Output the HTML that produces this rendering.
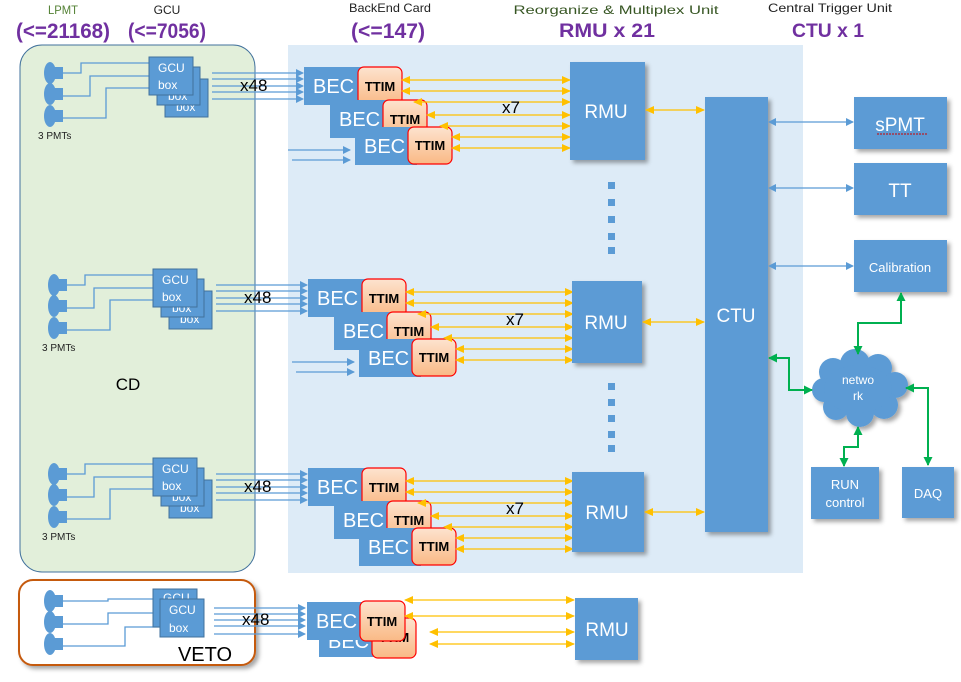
<!DOCTYPE html>
<html><head><meta charset="utf-8"><style>
body{margin:0;background:#fff}
svg{display:block;font-family:"Liberation Sans",sans-serif}
.b{fill:#5b9bd5}
.w{fill:#fff}
.bl{stroke:#5b9bd5;stroke-width:1.3;fill:none}
.y{stroke:#ffc000;stroke-width:1.3;fill:none}
.g{stroke:#00b050;stroke-width:2;fill:none}
.tt{fill:url(#og);stroke:#ff0000;stroke-width:1.2}
</style></head><body>
<svg width="961" height="682" viewBox="0 0 961 682">
<defs>
<linearGradient id="og" x1="0" y1="0" x2="0" y2="1"><stop offset="0" stop-color="#fde3cf"/><stop offset="1" stop-color="#f9b985"/></linearGradient>
<marker id="ab" markerWidth="8" markerHeight="8" refX="7" refY="4" orient="auto-start-reverse" markerUnits="userSpaceOnUse"><path d="M0,0L8,4L0,8z" fill="#5b9bd5"/></marker>
<marker id="ay" markerWidth="9" markerHeight="8" refX="8" refY="4" orient="auto-start-reverse" markerUnits="userSpaceOnUse"><path d="M0,0L9,4L0,8z" fill="#ffc000"/></marker>
<marker id="ag" markerWidth="9" markerHeight="9" refX="8" refY="4.5" orient="auto-start-reverse" markerUnits="userSpaceOnUse"><path d="M0,0L9,4.5L0,9z" fill="#00b050"/></marker>
<filter id="sh" x="-10%" y="-10%" width="130%" height="130%"><feDropShadow dx="3" dy="3" stdDeviation="2" flood-color="#000" flood-opacity="0.35"/></filter>
<g id="pmts">
<ellipse class="b" cx="50" cy="73" rx="6" ry="11"/><rect class="b" x="55" y="67" width="8" height="12"/>
<ellipse class="b" cx="50" cy="94" rx="6" ry="11"/><rect class="b" x="55" y="88" width="8" height="12"/>
<ellipse class="b" cx="50" cy="116" rx="6" ry="11"/><rect class="b" x="55" y="110" width="8" height="12"/>
</g>
</defs>

<text x="63" y="14" font-size="12" fill="#548235" text-anchor="middle" textLength="30" lengthAdjust="spacingAndGlyphs">LPMT</text>
<text x="63" y="38" font-size="21" font-weight="bold" fill="#7030a0" text-anchor="middle" textLength="94" lengthAdjust="spacingAndGlyphs">(&lt;=21168)</text>
<text x="167" y="14" font-size="12" fill="#222" text-anchor="middle">GCU</text>
<text x="167" y="38" font-size="21" font-weight="bold" fill="#7030a0" text-anchor="middle" textLength="78" lengthAdjust="spacingAndGlyphs">(&lt;=7056)</text>
<text x="390" y="12" font-size="12" fill="#222" text-anchor="middle" textLength="82" lengthAdjust="spacingAndGlyphs">BackEnd Card</text>
<text x="388" y="38" font-size="21" font-weight="bold" fill="#7030a0" text-anchor="middle" textLength="74" lengthAdjust="spacingAndGlyphs">(&lt;=147)</text>
<text x="616" y="14" font-size="12" fill="#375623" text-anchor="middle" textLength="205" lengthAdjust="spacingAndGlyphs">Reorganize &amp; Multiplex Unit</text>
<text x="607" y="37" font-size="19" font-weight="bold" fill="#7030a0" text-anchor="middle" textLength="96" lengthAdjust="spacingAndGlyphs">RMU x 21</text>
<text x="830" y="12" font-size="12" fill="#222" text-anchor="middle" textLength="124" lengthAdjust="spacingAndGlyphs">Central Trigger Unit</text>
<text x="828" y="37" font-size="19" font-weight="bold" fill="#7030a0" text-anchor="middle" textLength="72" lengthAdjust="spacingAndGlyphs">CTU x 1</text>

<rect x="20" y="45" width="235" height="527" rx="22" fill="#e2efda" stroke="#41719c" stroke-width="1"/>
<rect x="288" y="45" width="515" height="528" fill="#ddebf7"/>
<rect x="19" y="580" width="236" height="85" rx="14" fill="#fff" stroke="#c55a11" stroke-width="2" filter="url(#sh)"/>
<text x="128" y="390" font-size="17" fill="#000" text-anchor="middle">CD</text>
<text x="205" y="661" font-size="20" fill="#000" text-anchor="middle">VETO</text>

<g id="grp1">
<use href="#pmts"/>
<text x="38" y="139" font-size="10" fill="#222">3 PMTs</text>
<path class="bl" d="M63 73H81V63H149M63 96H90V76H149M63 118H106V88H149"/>
<rect class="b" x="165" y="79" width="43" height="38" stroke="#41719c"/><text x="176" y="111" font-size="12" class="w">box</text>
<rect class="b" x="157" y="67" width="43" height="38" stroke="#41719c"/><text x="168" y="100" font-size="12" class="w">box</text>
<rect class="b" x="149" y="57" width="44" height="38" stroke="#41719c"/><text x="158" y="72" font-size="12" class="w">GCU</text><text x="158" y="89" font-size="12" class="w">box</text>
<path class="bl" marker-end="url(#ab)" d="M212 73H303"/><path class="bl" marker-end="url(#ab)" d="M212 79H303"/><path class="bl" marker-end="url(#ab)" d="M212 86H303"/><path class="bl" marker-end="url(#ab)" d="M212 92H303"/><path class="bl" marker-end="url(#ab)" d="M212 99H303"/>
<text x="240" y="91" font-size="17" fill="#000">x48</text>
<rect class="b" x="304" y="67" width="62" height="38"/><text x="313" y="93" font-size="20" class="w">BEC</text>
<rect class="tt" x="358" y="67" width="44" height="38" rx="6"/><text x="380" y="91" font-size="13" font-weight="bold" text-anchor="middle">TTIM</text>
<rect class="b" x="330" y="100" width="62" height="38"/><text x="339" y="126" font-size="20" class="w">BEC</text>
<rect class="tt" x="383" y="100" width="44" height="38" rx="6"/><text x="405" y="124" font-size="13" font-weight="bold" text-anchor="middle">TTIM</text>
<rect class="b" x="355" y="127" width="62" height="38"/><text x="364" y="153" font-size="20" class="w">BEC</text>
<rect class="tt" x="408" y="127" width="44" height="37" rx="6"/><text x="430" y="150" font-size="13" font-weight="bold" text-anchor="middle">TTIM</text>
<path class="bl" marker-end="url(#ab)" d="M288 150H350"/><path class="bl" marker-end="url(#ab)" d="M292 160H350"/>
<g class="y" marker-start="url(#ay)" marker-end="url(#ay)">
<path d="M402 80H570"/><path d="M402 91H570"/><path d="M414 102H570"/><path d="M427 115H570"/><path d="M440 126H570"/><path d="M452 137H570"/><path d="M452 148H570"/>
</g>
<text x="502" y="113" font-size="17" fill="#000">x7</text>
</g>
<g transform="translate(4,212)">
<use href="#pmts"/>
<text x="38" y="139" font-size="10" fill="#222">3 PMTs</text>
<path class="bl" d="M63 73H81V63H149M63 96H90V76H149M63 118H106V88H149"/>
<rect class="b" x="165" y="79" width="43" height="38" stroke="#41719c"/><text x="176" y="111" font-size="12" class="w">box</text>
<rect class="b" x="157" y="67" width="43" height="38" stroke="#41719c"/><text x="168" y="100" font-size="12" class="w">box</text>
<rect class="b" x="149" y="57" width="44" height="38" stroke="#41719c"/><text x="158" y="72" font-size="12" class="w">GCU</text><text x="158" y="89" font-size="12" class="w">box</text>
<path class="bl" marker-end="url(#ab)" d="M212 73H303"/><path class="bl" marker-end="url(#ab)" d="M212 79H303"/><path class="bl" marker-end="url(#ab)" d="M212 86H303"/><path class="bl" marker-end="url(#ab)" d="M212 92H303"/><path class="bl" marker-end="url(#ab)" d="M212 99H303"/>
<text x="240" y="91" font-size="17" fill="#000">x48</text>
<rect class="b" x="304" y="67" width="62" height="38"/><text x="313" y="93" font-size="20" class="w">BEC</text>
<rect class="tt" x="358" y="67" width="44" height="38" rx="6"/><text x="380" y="91" font-size="13" font-weight="bold" text-anchor="middle">TTIM</text>
<rect class="b" x="330" y="100" width="62" height="38"/><text x="339" y="126" font-size="20" class="w">BEC</text>
<rect class="tt" x="383" y="100" width="44" height="38" rx="6"/><text x="405" y="124" font-size="13" font-weight="bold" text-anchor="middle">TTIM</text>
<rect class="b" x="355" y="127" width="62" height="38"/><text x="364" y="153" font-size="20" class="w">BEC</text>
<rect class="tt" x="408" y="127" width="44" height="37" rx="6"/><text x="430" y="150" font-size="13" font-weight="bold" text-anchor="middle">TTIM</text>
<path class="bl" marker-end="url(#ab)" d="M288 150H350"/><path class="bl" marker-end="url(#ab)" d="M292 160H350"/>
<g class="y" marker-start="url(#ay)" marker-end="url(#ay)">
<path d="M402 80H569"/><path d="M402 91H569"/><path d="M414 102H569"/><path d="M427 115H569"/><path d="M440 126H569"/><path d="M452 137H569"/><path d="M452 148H569"/>
</g>
<text x="502" y="113" font-size="17" fill="#000">x7</text>
</g>
<g transform="translate(4,401)">
<use href="#pmts"/>
<text x="38" y="139" font-size="10" fill="#222">3 PMTs</text>
<path class="bl" d="M63 73H81V63H149M63 96H90V76H149M63 118H106V88H149"/>
<rect class="b" x="165" y="79" width="43" height="38" stroke="#41719c"/><text x="176" y="111" font-size="12" class="w">box</text>
<rect class="b" x="157" y="67" width="43" height="38" stroke="#41719c"/><text x="168" y="100" font-size="12" class="w">box</text>
<rect class="b" x="149" y="57" width="44" height="38" stroke="#41719c"/><text x="158" y="72" font-size="12" class="w">GCU</text><text x="158" y="89" font-size="12" class="w">box</text>
<path class="bl" marker-end="url(#ab)" d="M212 73H303"/><path class="bl" marker-end="url(#ab)" d="M212 79H303"/><path class="bl" marker-end="url(#ab)" d="M212 86H303"/><path class="bl" marker-end="url(#ab)" d="M212 92H303"/><path class="bl" marker-end="url(#ab)" d="M212 99H303"/>
<text x="240" y="91" font-size="17" fill="#000">x48</text>
<rect class="b" x="304" y="67" width="62" height="38"/><text x="313" y="93" font-size="20" class="w">BEC</text>
<rect class="tt" x="358" y="67" width="44" height="38" rx="6"/><text x="380" y="91" font-size="13" font-weight="bold" text-anchor="middle">TTIM</text>
<rect class="b" x="330" y="100" width="62" height="38"/><text x="339" y="126" font-size="20" class="w">BEC</text>
<rect class="tt" x="383" y="100" width="44" height="38" rx="6"/><text x="405" y="124" font-size="13" font-weight="bold" text-anchor="middle">TTIM</text>
<rect class="b" x="355" y="127" width="62" height="38"/><text x="364" y="153" font-size="20" class="w">BEC</text>
<rect class="tt" x="408" y="127" width="44" height="37" rx="6"/><text x="430" y="150" font-size="13" font-weight="bold" text-anchor="middle">TTIM</text>
<g class="y" marker-start="url(#ay)" marker-end="url(#ay)">
<path d="M402 80H569"/><path d="M402 91H569"/><path d="M414 102H569"/><path d="M427 115H569"/><path d="M440 126H569"/><path d="M452 137H569"/><path d="M452 148H569"/>
</g>
<text x="502" y="113" font-size="17" fill="#000">x7</text>
</g>

<g transform="translate(0,528)">
<use href="#pmts"/>
<path class="bl" d="M63 73H108V71H153M63 96H108V85H160M63 118H125V99H160"/>
</g>
<rect class="b" x="153" y="589" width="44" height="38" stroke="#41719c"/><text x="163" y="602" font-size="12" class="w">GCU</text>
<rect class="b" x="160" y="599" width="44" height="38" stroke="#41719c"/><text x="169" y="614" font-size="12" class="w">GCU</text><text x="169" y="632" font-size="12" class="w">box</text>
<path class="bl" marker-end="url(#ab)" d="M214 608H305"/><path class="bl" marker-end="url(#ab)" d="M214 614H305"/><path class="bl" marker-end="url(#ab)" d="M214 620H305"/><path class="bl" marker-end="url(#ab)" d="M214 626H305"/><path class="bl" marker-end="url(#ab)" d="M214 634H305"/>
<text x="242" y="625" font-size="17" fill="#000">x48</text>
<rect class="b" x="319" y="620" width="60" height="37"/><text x="328" y="648" font-size="20" class="w">BEC</text>
<rect class="tt" x="372" y="618" width="44" height="40" rx="6"/><text x="394" y="642" font-size="13" font-weight="bold" text-anchor="middle">TTIM</text>
<rect class="b" x="307" y="602" width="60" height="38"/><text x="316" y="628" font-size="20" class="w">BEC</text>
<rect class="tt" x="360" y="601" width="45" height="40" rx="6"/><text x="382" y="626" font-size="13" font-weight="bold" text-anchor="middle">TTIM</text>
<g class="y" marker-start="url(#ay)" marker-end="url(#ay)">
<path d="M405 600H574"/><path d="M405 616H574"/><path d="M430 632H574"/><path d="M430 644H574"/>
</g>

<g filter="url(#sh)">
<rect class="b" x="570" y="62" width="75" height="98"/>
<rect class="b" x="572" y="281" width="70" height="82"/>
<rect class="b" x="572" y="472" width="72" height="80"/>
<rect class="b" x="575" y="598" width="63" height="62"/>
<rect class="b" x="705" y="97" width="63" height="435"/>
<rect class="b" x="854" y="97" width="93" height="52"/>
<rect class="b" x="854" y="163" width="93" height="52"/>
<rect class="b" x="854" y="240" width="93" height="52"/>
<rect class="b" x="811" y="467" width="68" height="52"/>
<rect class="b" x="902" y="467" width="52" height="51"/>
</g>
<g class="w" font-size="19" text-anchor="middle">
<text x="606" y="118">RMU</text><text x="606" y="329">RMU</text><text x="607" y="519">RMU</text><text x="607" y="636">RMU</text>
<text x="736" y="322">CTU</text><text x="900" y="131">sPMT</text><text x="900" y="197">TT</text>
<text x="900" y="272" font-size="13">Calibration</text>
<text x="845" y="489" font-size="13">RUN</text><text x="845" y="507" font-size="13">control</text>
<text x="928" y="498" font-size="13">DAQ</text>
</g>
<path d="M877 134H928" stroke="#c00" stroke-width="1" stroke-dasharray="2,1"/>
<g fill="#5b9bd5">
<rect x="608" y="182" width="7" height="7"/><rect x="608" y="199" width="7" height="7"/><rect x="608" y="216" width="7" height="7"/><rect x="608" y="233" width="7" height="7"/><rect x="608" y="247" width="7" height="7"/>
<rect x="608" y="383" width="7" height="7"/><rect x="608" y="399" width="7" height="7"/><rect x="608" y="415" width="7" height="7"/><rect x="608" y="431" width="7" height="7"/><rect x="608" y="445" width="7" height="7"/>
</g>
<g class="y" marker-start="url(#ay)" marker-end="url(#ay)" stroke="#d9a400">
<path d="M646 110H704"/><path d="M643 322H704"/><path d="M645 512H704"/>
</g>
<g class="bl" marker-start="url(#ab)" marker-end="url(#ab)">
<path d="M769 122H853"/><path d="M769 188H853"/><path d="M769 266H853"/>
</g>
<g fill="#5b9bd5" filter="url(#sh)">
<circle cx="833" cy="372" r="14"/><circle cx="855" cy="364" r="15"/><circle cx="878" cy="368" r="14"/>
<circle cx="895" cy="385" r="13"/><circle cx="884" cy="405" r="14"/><circle cx="860" cy="413" r="14"/>
<circle cx="836" cy="407" r="13"/><circle cx="824" cy="390" r="12"/><ellipse cx="858" cy="389" rx="34" ry="24"/>
</g>
<text x="858" y="384" font-size="12" class="w" text-anchor="middle">netwo</text>
<text x="858" y="400" font-size="12" class="w" text-anchor="middle">rk</text>
<g class="g" marker-start="url(#ag)" marker-end="url(#ag)">
<path d="M901 293V323H858V354"/>
<path d="M769 358H789V390H812"/>
<path d="M906 388H928V465"/>
<path d="M858 427V447H844V466"/>
</g>
</svg>
</body></html>
